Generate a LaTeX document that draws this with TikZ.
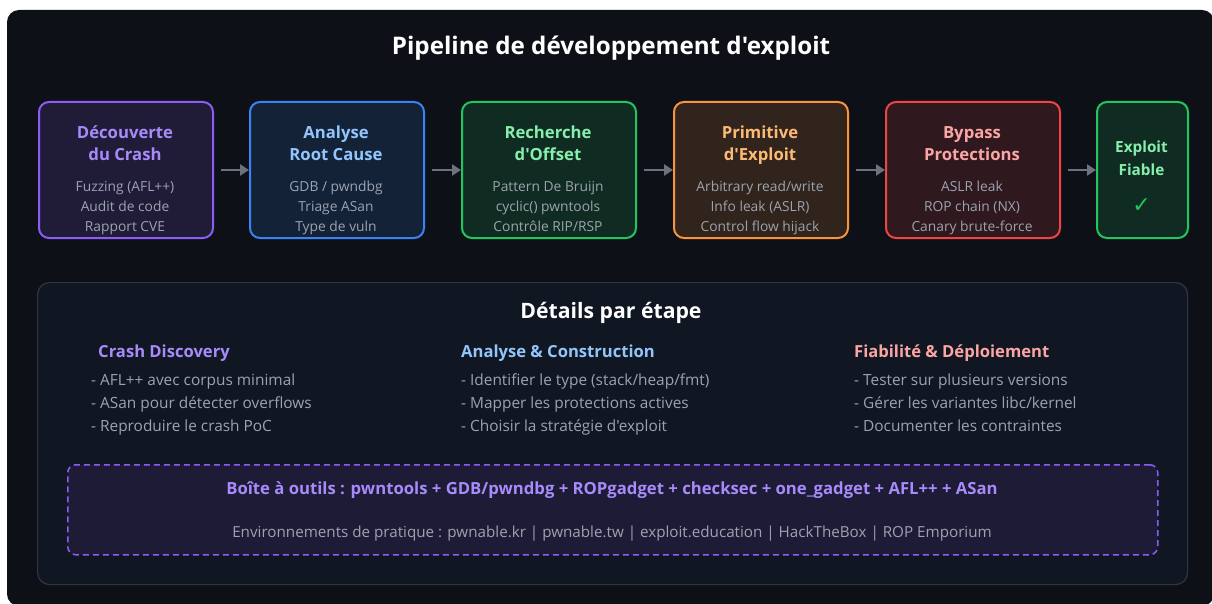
\documentclass[tikz,border=0pt]{standalone}
\usepackage{fontspec}
\newfontfamily\nsans{Open Sans}
\newfontfamily\symfont{DejaVu Sans}
\usetikzlibrary{arrows.meta}
\definecolor{bg}{HTML}{0D1117}
\definecolor{panelfill}{HTML}{111722}
\definecolor{panelline}{HTML}{30363D}
\definecolor{subgray}{HTML}{9CA3AF}
\definecolor{arrgray}{HTML}{6B7280}
\definecolor{cpur}{HTML}{8B5CF6}\definecolor{tpur}{HTML}{A78BFA}\definecolor{fpur}{HTML}{201C38}
\definecolor{cblu}{HTML}{3B82F6}\definecolor{tblu}{HTML}{93C5FD}\definecolor{fblu}{HTML}{142238}
\definecolor{cgrn}{HTML}{22C55E}\definecolor{tgrn}{HTML}{86EFAC}\definecolor{fgrn}{HTML}{102C22}
\definecolor{corg}{HTML}{FB923C}\definecolor{torg}{HTML}{FDBA74}\definecolor{forg}{HTML}{31241D}
\definecolor{cred}{HTML}{EF4444}\definecolor{tred}{HTML}{FCA5A5}\definecolor{fred}{HTML}{2F191E}
\definecolor{toolfill}{HTML}{1E1B36}
\begin{document}
\begin{tikzpicture}[x=1pt,y=-1pt,
  stepbox/.style={draw, line width=2pt, rounded corners=10pt, minimum width=174pt,
    minimum height=136pt, anchor=north west, inner sep=0pt},
  ttl/.style={anchor=base, font=\nsans\fontsize{16.7}{19}\selectfont\bfseries, inner sep=0pt},
  sub/.style={anchor=base, font=\nsans\fontsize{13.8}{16}\selectfont, text=subgray, inner sep=0pt},
  head/.style={anchor=base west, font=\nsans\fontsize{16.6}{19}\selectfont\bfseries, inner sep=0pt},
  item/.style={anchor=base west, font=\nsans\fontsize{15.4}{18}\selectfont, text=subgray, inner sep=0pt},
  arr/.style={draw=arrgray, line width=2.5pt, -{Triangle[length=9pt,width=11pt]},
    shorten <=7pt, shorten >=0pt}
]
\useasboundingbox (0,0) rectangle (1212,604);
\fill[white] (0,0) rectangle (1212,604);
\fill[bg, rounded corners=12pt] (7,10) rectangle (1214,606);

% title
\node[anchor=base, font=\nsans\fontsize{24.2}{28}\selectfont\bfseries, text=white, inner sep=0pt]
  (title) at (611,55) {Pipeline de développement d'exploit};

% step boxes
\node[stepbox, draw=cpur, fill=fpur] (b1) at (38,101) {};
\node[stepbox, draw=cblu, fill=fblu] (b2) at (249,101) {};
\node[stepbox, draw=cgrn, fill=fgrn] (b3) at (461,101) {};
\node[stepbox, draw=corg, fill=forg] (b4) at (673,101) {};
\node[stepbox, draw=cred, fill=fred] (b5) at (885,101) {};
\node[stepbox, draw=cgrn, fill=fgrn, minimum width=91pt] (b6) at (1096,101) {};

% box 1
\node[ttl, text=tpur] (b1t1) at (125,139) {Découverte};
\node[ttl, text=tpur] (b1t2) at (125,161) {du Crash};
\node[sub] (b1s1) at (125,192) {Fuzzing (AFL++)};
\node[sub] (b1s2) at (125,211.5) {Audit de code};
\node[sub] (b1s3) at (125,231) {Rapport CVE};
% box 2
\node[ttl, text=tblu] (b2t1) at (336,139) {Analyse};
\node[ttl, text=tblu] (b2t2) at (336,161) {Root Cause};
\node[sub] (b2s1) at (336,192) {GDB / pwndbg};
\node[sub] (b2s2) at (336,211.5) {Triage ASan};
\node[sub] (b2s3) at (336,231) {Type de vuln};
% box 3
\node[ttl, text=tgrn] (b3t1) at (548,139) {Recherche};
\node[ttl, text=tgrn] (b3t2) at (548,161) {d'Offset};
\node[sub] (b3s1) at (548,192) {Pattern De Bruijn};
\node[sub] (b3s2) at (548,211.5) {cyclic() pwntools};
\node[sub] (b3s3) at (548,231) {Contrôle RIP/RSP};
% box 4
\node[ttl, text=torg] (b4t1) at (760,139) {Primitive};
\node[ttl, text=torg] (b4t2) at (760,161) {d'Exploit};
\node[sub] (b4s1) at (760,192) {Arbitrary read/write};
\node[sub] (b4s2) at (760,211.5) {Info leak (ASLR)};
\node[sub] (b4s3) at (760,231) {Control flow hijack};
% box 5
\node[ttl, text=tred] (b5t1) at (972,139) {Bypass};
\node[ttl, text=tred] (b5t2) at (972,161) {Protections};
\node[sub] (b5s1) at (972,192) {ASLR leak};
\node[sub] (b5s2) at (972,211.5) {ROP chain (NX)};
\node[sub] (b5s3) at (972,231) {Canary brute-force};
% box 6
\node[ttl, text=tgrn, font=\nsans\fontsize{15.3}{18}\selectfont\bfseries] (b6t1) at (1141.5,153) {Exploit};
\node[ttl, text=tgrn, font=\nsans\fontsize{15.3}{18}\selectfont\bfseries] (b6t2) at (1141.5,176) {Fiable};
\node[anchor=base, inner sep=0pt, text=cgrn, font=\symfont\fontsize{22}{26}\selectfont] (b6c) at (1141.5,212) {✓};

% arrows
\draw[arr] (b1) -- (b2);
\draw[arr] (b2) -- (b3);
\draw[arr] (b3) -- (b4);
\draw[arr] (b4) -- (b5);
\draw[arr] (b5) -- (b6);

% details panel
\node[draw=panelline, fill=panelfill, line width=1.2pt, rounded corners=12pt, anchor=north west,
  minimum width=1150pt, minimum height=302pt, inner sep=0pt] (panel) at (37,282) {};
\node[anchor=base, font=\nsans\fontsize{21.2}{25}\selectfont\bfseries, text=white, inner sep=0pt]
  (ptitle) at (611,318) {Détails par étape};

\node[head, text=tpur] (h1) at (98,357) {Crash Discovery};
\node[item] (h1a) at (91,385) {- AFL++ avec corpus minimal};
\node[item] (h1b) at (91,408) {- ASan pour détecter overflows};
\node[item] (h1c) at (91,431) {- Reproduire le crash PoC};

\node[head, text=tblu] (h2) at (461,357) {Analyse \& Construction};
\node[item] (h2a) at (461,385) {- Identifier le type (stack/heap/fmt)};
\node[item] (h2b) at (461,408) {- Mapper les protections actives};
\node[item] (h2c) at (461,431) {- Choisir la stratégie d'exploit};

\node[head, text=tred] (h3) at (854,357) {Fiabilité \& Déploiement};
\node[item] (h3a) at (854,385) {- Tester sur plusieurs versions};
\node[item] (h3b) at (854,408) {- Gérer les variantes libc/kernel};
\node[item] (h3c) at (854,431) {- Documenter les contraintes};

% toolbox
\node[draw=cpur, fill=toolfill, line width=1.5pt, dash pattern=on 6pt off 4pt, rounded corners=8pt,
  anchor=north west, minimum width=1090pt, minimum height=90pt, inner sep=0pt] (tool) at (67,464) {};
\node[anchor=base, font=\nsans\fontsize{16.7}{20}\selectfont\bfseries, text=tpur, inner sep=0pt]
  (toolt) at (612,494) {Boîte à outils : pwntools + GDB/pwndbg + ROPgadget + checksec + one\_gadget + AFL++ + ASan};
\node[anchor=base, font=\nsans\fontsize{15.2}{18}\selectfont, text=subgray, inner sep=0pt]
  (env) at (612,537) {Environnements de pratique : pwnable.kr | pwnable.tw | exploit.education | HackTheBox | ROP Emporium};
\end{tikzpicture}
\end{document}
